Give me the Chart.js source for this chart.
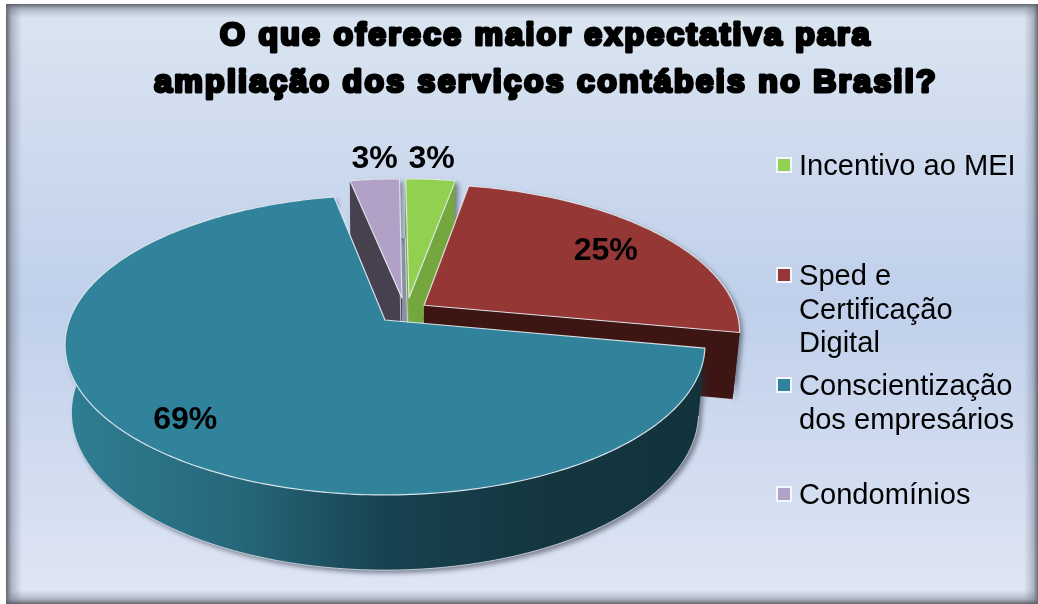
<!DOCTYPE html>
<html><head><meta charset="utf-8">
<style>html,body{margin:0;padding:0;background:#fff}canvas{display:block}</style>
<script src="https://cdn.jsdelivr.net/npm/chart.js@4"></script>
</head><body><canvas id="c" width="1038" height="604"></canvas>
<script>
const categories = ['Incentivo ao MEI','Sped e Certificação Digital','Conscientização dos empresários','Condomínios'];
const legendLines = [['Incentivo ao MEI'],['Sped e','Certificação','Digital'],['Conscientização','dos empresários'],['Condomínios']];
const values = [3,25,69,3];
const percentLabels = ['3%','25%','69%','3%'];
const titleLines = ['O que oferece maior expectativa para','ampliação dos serviços contábeis no Brasil?'];
const topColors = ['#92d050','#953735','#31839c','#b2a1c7'];
const wallColors = ['#74a83e','#3d1614','#1a4451','#47404f'];

const FONT='"Liberation Sans", Arial, sans-serif';
// perspective view of the disc
const view={cx:385,cy:320,R:315.5,a:145.8,k:1/6,depth:66.4,tiltBottom:1.05,shrink:0.98};
// how far each slice is pulled out, in disc radii (sideways, backwards)
const explode=[[.078,.155],[.126,.103],[0,0],[.055,.155]];
const labelRadius=[1.22,.76,.81,1.22];
const labelNudge=[[-3,0],[2,0],[0,6],[5,0]];
const drawOrder=[3,0,1,2];
const legendRows=[165,275,385,494];

function proj(u,v,bottom){
  const d=1+view.k*v, X=view.R*u/d, Y=view.a*v/d;
  return bottom?{x:view.cx+X*view.shrink,y:view.cy-Y*view.tiltBottom+view.depth}:{x:view.cx+X,y:view.cy-Y};
}
function rimPoints(el,off,bottom){
  const s=el.startAngle+Math.PI/2,e=el.endAngle+Math.PI/2,n=Math.max(8,Math.ceil((e-s)*60)),pts=[];
  for(let i=0;i<=n;i++){const t=s+(e-s)*i/n;pts.push(proj(off[0]+Math.sin(t),off[1]+Math.cos(t),bottom));}
  return pts;
}
function pathOf(ctx,pts){ctx.beginPath();pts.forEach((p,i)=>i?ctx.lineTo(p.x,p.y):ctx.moveTo(p.x,p.y));ctx.closePath();}

const piePlugin={
  id:'perspectivePie',
  beforeDraw(chart){
    const ctx=chart.ctx,W=chart.width,H=chart.height,L=6,T=4;
    ctx.save();
    ctx.fillStyle='#fff';ctx.fillRect(0,0,W,H);
    const g=ctx.createLinearGradient(0,T,0,H);
    g.addColorStop(0,'#dbe5f1');g.addColorStop(.5,'#c0d0eb');g.addColorStop(1,'#e0e6f4');
    ctx.fillStyle=g;ctx.fillRect(L,T,W-L,H-T);
    const edge=(x0,y0,x1,y1,rx,ry,rw,rh,a)=>{
      const s=ctx.createLinearGradient(x0,y0,x1,y1);
      s.addColorStop(0,`rgba(90,90,100,${a})`);s.addColorStop(.35,`rgba(110,115,130,${a*.45})`);s.addColorStop(1,'rgba(120,130,150,0)');
      ctx.fillStyle=s;ctx.fillRect(rx,ry,rw,rh);
    };
    edge(L,0,L+16,0,L,T,16,H-T,.95);
    edge(0,T,0,T+14,L,T,W-L,14,.95);
    edge(W,0,W-14,0,W-14,T,14,H-T,.9);
    edge(0,H,0,H-14,L,H-14,W-L,14,.95);
    ctx.restore();
    ctx.letterSpacing='2.3px';
  },
  beforeDatasetDraw(chart){
    const ctx=chart.ctx,arcs=chart.getDatasetMeta(0).data;
    ctx.save();ctx.lineJoin='round';
    // shaded strip seen through the gap between the two small slices
    const pEnd=rimPoints(arcs[3],explode[3],true).pop(),gStart=rimPoints(arcs[0],explode[0],true)[0];
    const pAb=proj(explode[3][0],explode[3][1],true),gAb=proj(explode[0][0],explode[0][1],true);
    pathOf(ctx,[pEnd,gStart,gAb,pAb]);ctx.fillStyle='#8b8fa6';ctx.fill();
    drawOrder.forEach(i=>{
      const el=arcs[i],off=explode[i];
      const top=rimPoints(el,off,false),bot=rimPoints(el,off,true);
      const at=proj(off[0],off[1],false),ab=proj(off[0],off[1],true);
      let wall=wallColors[i];
      if(i===2){
        const g=ctx.createLinearGradient(66,0,706,0);
        g.addColorStop(0,'#2f7e93');g.addColorStop(.27,'#27677a');g.addColorStop(.5,'#174250');g.addColorStop(.75,'#14363f');g.addColorStop(1,'#12333c');
        wall=g;
      }
      ctx.fillStyle=wall;
      // outer rim, with the soft shadow and light edge
      ctx.save();
      ctx.shadowColor='rgba(40,45,60,.55)';ctx.shadowBlur=5;ctx.shadowOffsetX=3;ctx.shadowOffsetY=3;
      pathOf(ctx,top.concat(bot.slice().reverse()));ctx.fill();
      ctx.restore();
      ctx.strokeStyle='rgba(225,232,240,.75)';ctx.lineWidth=1;
      ctx.beginPath();bot.forEach((p,j)=>j?ctx.lineTo(p.x,p.y):ctx.moveTo(p.x,p.y));ctx.stroke();
      // cut faces sit over the rim (the large slice hides its own under the top face)
      if(i!==2)[[top[0],bot[0]],[top[top.length-1],bot[bot.length-1]]].forEach(([a,b])=>{
        pathOf(ctx,[at,a,b,ab]);ctx.fill();
        ctx.beginPath();ctx.moveTo(ab.x,ab.y);ctx.lineTo(b.x,b.y);ctx.stroke();
      });
      // top face
      pathOf(ctx,[at].concat(top));
      ctx.fillStyle=topColors[i];ctx.fill();
      ctx.strokeStyle='rgba(228,236,242,.9)';ctx.lineWidth=1.2;ctx.stroke();
    });
    ctx.restore();
    return false;
  },
  afterDraw(chart){
    const ctx=chart.ctx,arcs=chart.getDatasetMeta(0).data;
    ctx.save();
    // heavier title strokes
    const tb=chart.titleBlock,tf=chart.options.plugins.title;
    ctx.font=`bold ${tf.font.size}px ${FONT}`;ctx.textAlign='center';ctx.textBaseline='middle';
    ctx.lineJoin='round';ctx.strokeStyle='#000';ctx.lineWidth=3.2;
    const lh=tf.font.size*tf.font.lineHeight,tx=tb.left+tb.width/2;
    titleLines.forEach((t,i)=>ctx.strokeText(t,tx,tb.top+tf.padding.top+lh/2+i*lh));
    ctx.letterSpacing='0px';
    // percentage labels
    ctx.fillStyle='#000';ctx.font=`bold 32px ${FONT}`;
    arcs.forEach((el,i)=>{
      const t=(el.startAngle+el.endAngle)/2+Math.PI/2,r=labelRadius[i],off=explode[i];
      const p=proj(off[0]+r*Math.sin(t),off[1]+r*Math.cos(t),false);
      ctx.fillText(percentLabels[i],p.x+labelNudge[i][0],p.y+2+labelNudge[i][1]);
    });
    // legend
    ctx.font=`29.1px ${FONT}`;ctx.textAlign='left';
    legendLines.forEach((lines,i)=>{
      const y=legendRows[i];
      ctx.fillStyle='#f4f7fb';ctx.fillRect(776,y-8,16,16);
      ctx.fillStyle=topColors[i];ctx.fillRect(778,y-6,12,12);
      ctx.fillStyle='#000';
      lines.forEach((l,j)=>ctx.fillText(l,799,y+2+j*33.5));
    });
    ctx.restore();
  }
};

new Chart(document.getElementById('c'),{
  type:'pie',
  data:{labels:categories,datasets:[{data:values,backgroundColor:topColors}]},
  plugins:[piePlugin],
  options:{
    responsive:false,animation:false,
    layout:{padding:{left:54}},
    plugins:{
      legend:{display:false},tooltip:{enabled:false},
      title:{display:true,text:titleLines,color:'#000',padding:{top:13,bottom:0},
        font:{family:FONT,size:32,weight:'bold',lineHeight:1.47}}
    }
  }
});
</script></body></html>
